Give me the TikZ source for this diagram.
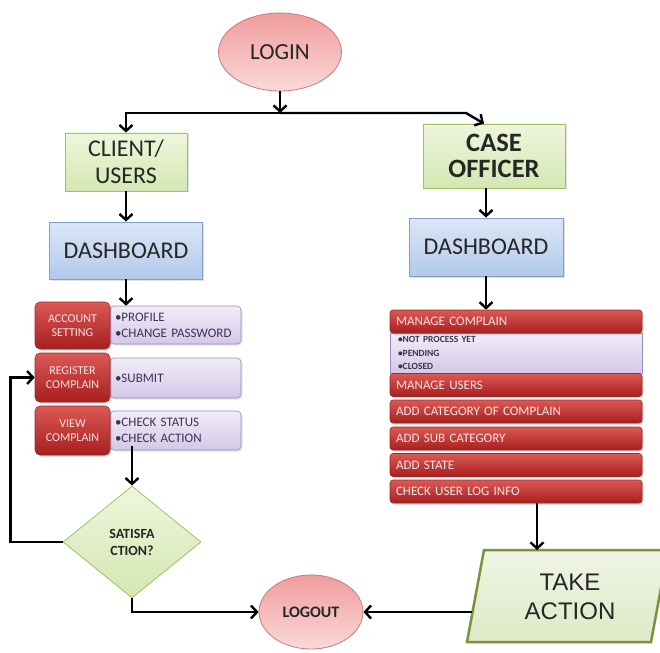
\documentclass[tikz,border=0pt]{standalone}
\usepackage{fontspec}
\setmainfont{Carlito}
\newfontfamily\arialfont{Liberation Sans}
\usetikzlibrary{arrows.meta,shapes.geometric,shadows}
\definecolor{ovalT}{HTML}{F09C9C}
\definecolor{ovalBt}{HTML}{FAD9D9}
\definecolor{ovalB}{HTML}{C97D7B}
\definecolor{grnT}{HTML}{EEF6DC}
\definecolor{grnBt}{HTML}{D4E7B2}
\definecolor{grnB}{HTML}{A3C163}
\definecolor{bluT}{HTML}{DCE7F6}
\definecolor{bluBt}{HTML}{B2C9EB}
\definecolor{bluB}{HTML}{7E9FCD}
\definecolor{redT}{HTML}{DA5A55}
\definecolor{redBt}{HTML}{A81E1E}
\definecolor{redB}{HTML}{9E2B2B}
\definecolor{purT}{HTML}{F1EDF8}
\definecolor{purBt}{HTML}{D3C8E8}
\definecolor{purB}{HTML}{9A8BBE}
\definecolor{purTxt}{HTML}{3F3151}
\definecolor{redTxt}{HTML}{F8E6E6}
\definecolor{taB}{HTML}{77933C}
\definecolor{taT}{HTML}{F0F5E4}
\definecolor{taBt}{HTML}{DDE9C6}
\begin{document}
\begin{tikzpicture}[x=1pt,y=-1pt,
  arr/.style={line width=2.4pt,-{Straight Barb[length=6pt,width=13pt]}},
  oval/.style={ellipse,draw=ovalB,line width=0.8pt,top color=ovalT,bottom color=ovalBt,inner sep=0pt,text=black!85},
  grnbox/.style={rectangle,draw=grnB,line width=0.8pt,top color=grnT,bottom color=grnBt,inner sep=0pt,align=center,text=black!85,
     drop shadow={opacity=0.25,shadow xshift=1.5pt,shadow yshift=-1.5pt}},
  blubox/.style={rectangle,draw=bluB,line width=0.8pt,top color=bluT,bottom color=bluBt,inner sep=0pt,align=center,text=black!85,
     drop shadow={opacity=0.25,shadow xshift=1.5pt,shadow yshift=-1.5pt}},
  redbox/.style={rectangle,rounded corners=5pt,draw=redB,line width=0.6pt,top color=redT,bottom color=redBt,inner sep=0pt,align=center,text=redTxt,
     font=\fontsize{12}{14.5}\selectfont,minimum width=75pt,
     drop shadow={opacity=0.3,shadow xshift=1.5pt,shadow yshift=-1.5pt}},
  purbox/.style={rectangle,rounded corners=4pt,draw=purB,line width=0.6pt,top color=purT,bottom color=purBt,inner xsep=5pt,inner ysep=0pt,
     text width=121pt,align=left,text=purTxt,font=\fontsize{13}{16}\selectfont,minimum width=131pt,
     drop shadow={opacity=0.2,shadow xshift=1.5pt,shadow yshift=-1.5pt}},
  redrow/.style={rectangle,rounded corners=3pt,draw=redB,line width=0.6pt,top color=redT,bottom color=redBt,inner xsep=6pt,inner ysep=0pt,
     text width=240pt,align=left,text=redTxt,font=\fontsize{13}{14}\selectfont,minimum width=252pt,minimum height=23pt,
     drop shadow={opacity=0.3,shadow xshift=1.5pt,shadow yshift=-1.5pt}},
  listbox/.style={rectangle,draw=purB,line width=0.6pt,top color=purT,bottom color=purBt,inner xsep=8pt,inner ysep=0pt,
     text width=236pt,align=left,text=purTxt,font=\bfseries\fontsize{9.5}{13.5}\selectfont,minimum width=252pt,minimum height=40pt},
  decision/.style={diamond,draw=grnB,line width=0.8pt,top color=grnT,bottom color=grnBt,inner sep=0pt,align=center,text=black!85,
     font=\bfseries\fontsize{14}{17}\selectfont,minimum width=138pt,minimum height=112pt}
]
\useasboundingbox (0,0) rectangle (660,652);
\fill[white] (0,0) rectangle (660,652);

% top
\node[oval,minimum width=123pt,minimum height=78pt,font=\fontsize{23}{25}\selectfont] (login) at (280,52) {LOGIN};
\coordinate (split) at (280,113);
\coordinate (caseBend) at (466,113);

% left column
\node[grnbox,minimum width=122pt,minimum height=58pt,font=\fontsize{24}{27}\selectfont] (client) at (126,162) {CLIENT/\\USERS};
\node[blubox,minimum width=153pt,minimum height=57pt,font=\fontsize{24}{26}\selectfont] (dashL) at (126,250.5) {DASHBOARD};

\node[purbox,minimum height=38pt] (accP) at (175.5,325) {•PROFILE\\•CHANGE PASSWORD};
\node[purbox,minimum height=40pt] (regP) at (175.5,378) {•SUBMIT};
\node[purbox,minimum height=39pt] (viewP) at (175.5,430.5) {•CHECK STATUS\\•CHECK ACTION};
\node[redbox,minimum height=47pt] (accR) at (72.5,325.5) {ACCOUNT\\SETTING};
\node[redbox,minimum height=49pt] (regR) at (72.5,377.5) {REGISTER\\COMPLAIN};
\node[redbox,minimum height=49pt] (viewR) at (72.5,430.5) {VIEW\\COMPLAIN};

\node[decision] (sat) at (132,542) {SATISFA\\CTION?};
\node[oval,minimum width=104pt,minimum height=74pt,font=\bfseries\fontsize{16}{18}\selectfont] (logout) at (311,612) {LOGOUT};

% right column
\node[grnbox,minimum width=142pt,minimum height=64pt,font=\bfseries\fontsize{26.5}{26}\selectfont] (case) at (494,156) {CASE\\OFFICER};
\node[blubox,minimum width=154pt,minimum height=58pt,font=\fontsize{24}{26}\selectfont] (dashR) at (486,247) {DASHBOARD};

\node[listbox] (list) at (516,353) {•NOT PROCESS YET\\•PENDING\\•CLOSED};
\node[redrow] (mc) at (516,321.5) {MANAGE COMPLAIN};
\node[redrow] (mu) at (516,385) {MANAGE USERS};
\node[redrow] (acat) at (516,411.5) {ADD CATEGORY OF COMPLAIN};
\node[redrow] (asub) at (516,438.5) {ADD SUB CATEGORY};
\node[redrow] (ast) at (516,465) {ADD STATE};
\node[redrow] (chk) at (516,491.5) {CHECK USER LOG INFO};

% take action
\path[draw=taB,line width=2.5pt,top color=taT,bottom color=taBt] (484,550) -- (668,550) -- (651,642) -- (467,642) -- cycle;
\node[font=\arialfont\fontsize{24}{29}\selectfont,align=center,text=black!85] (ta) at (570,597) {TAKE\\ACTION};
\coordinate (taTop) at (537,550);
\coordinate (taLeft) at (472,612);

% connectors
\draw[arr] (login.south) -- (split);
\draw[arr] (split) -| (client.north);
\draw[arr] (split) -- (caseBend) -- ([xshift=-10pt]case.north);
\draw[arr] (client) -- (dashL);
\draw[arr] (dashL.south) -- (dashL.south |- accP.north);
\draw[arr] ([yshift=4pt]sat.north |- viewP.south) -- (sat.north);
\draw[arr] (sat.west) -- ++(-52,0) |- (regR.west);
\draw[arr] (sat.south) |- (logout.west);
\draw[arr] (taLeft) -- (logout.east);
\draw[arr] (dashR.north |- case.south) -- (dashR.north);
\draw[arr] (dashR.south) -- (dashR.south |- mc.north);
\draw[arr] (chk.south -| taTop) -- (taTop);
\end{tikzpicture}
\end{document}
